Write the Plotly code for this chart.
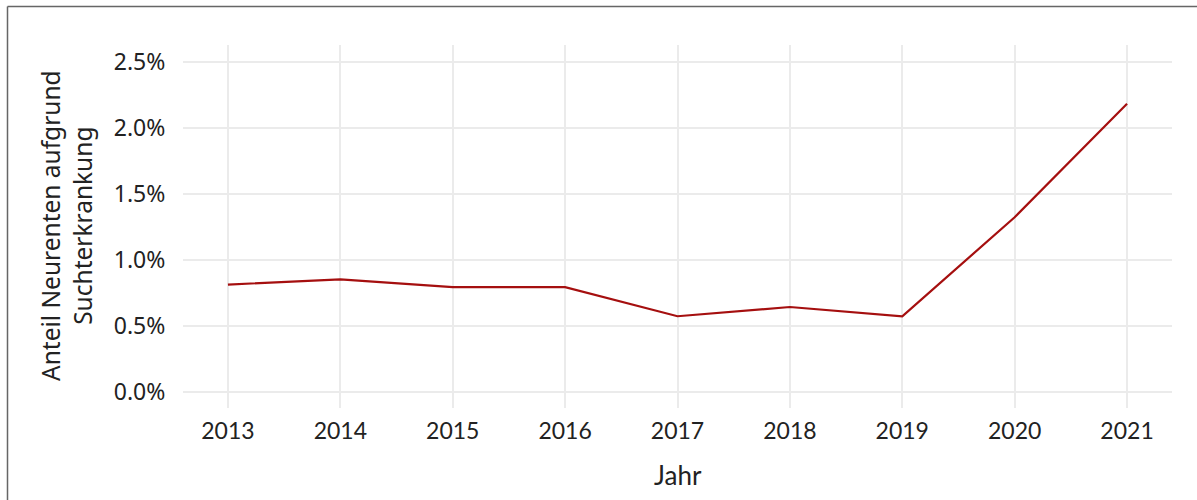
import plotly.graph_objects as go

years = [2013, 2014, 2015, 2016, 2017, 2018, 2019, 2020, 2021]
share = [0.0081, 0.0085, 0.0079, 0.0079, 0.0057, 0.0064, 0.0057, 0.0132, 0.0218]
y_ticks = [0.0, 0.005, 0.010, 0.015, 0.020, 0.025]
y_ticktext = ["0.0%", "0.5%", "1.0%", "1.5%", "2.0%", "2.5%"]

W, H = 1197, 500
L, R, T, B = 183, 25, 45, 92
pw, ph = W - L - R, H - T - B

def px(x):
    return (x - L) / pw

def py(y):
    return (H - B - y) / ph

fig = go.Figure()
fig.add_trace(go.Scatter(
    x=years, y=share, mode="lines",
    line=dict(color="#a50f0f", width=2.2),
    hoverinfo="skip", showlegend=False,
))

fig.update_layout(
    width=W, height=H,
    margin=dict(l=L, r=R, t=T, b=B),
    paper_bgcolor="white", plot_bgcolor="white",
    xaxis=dict(
        range=[2012.6, 2021.4], tickmode="array", tickvals=years,
        ticktext=[str(y) for y in years],
        showgrid=True, gridcolor="#ebebeb", gridwidth=2,
        zeroline=False, showline=False,
        ticks="outside", ticklen=2, tickcolor="rgba(0,0,0,0)",
        tickfont=dict(family="Lato", size=23, color="#222222"),
    ),
    yaxis=dict(
        range=[-0.00125, 0.02625], tickmode="array", tickvals=y_ticks,
        ticktext=y_ticktext,
        showgrid=True, gridcolor="#ebebeb", gridwidth=2,
        zeroline=False, showline=False,
        ticks="outside", ticklen=12, tickcolor="rgba(0,0,0,0)",
        tickfont=dict(family="Noto Sans", size=23, color="#222222"),
    ),
    annotations=[
        dict(text="Jahr", xref="paper", yref="paper", x=0.5, y=py(475),
             xanchor="center", yanchor="middle", showarrow=False,
             font=dict(family="Lato", size=26, color="#222222")),
        dict(text="Anteil Neurenten aufgrund<br>Suchterkrankung", xref="paper", yref="paper",
             x=px(66), y=py(226), xanchor="center", yanchor="middle",
             textangle=-90, showarrow=False,
             font=dict(family="Noto Sans", size=24.5, color="#222222")),
    ],
    shapes=[
        dict(type="line", xref="paper", yref="paper",
             x0=px(7.5), y0=py(6.5), x1=px(1200), y1=py(6.5),
             line=dict(color="#666666", width=1.5)),
        dict(type="line", xref="paper", yref="paper",
             x0=px(7.5), y0=py(6.5), x1=px(7.5), y1=py(505),
             line=dict(color="#666666", width=1.5)),
    ],
)

fig.write_html("out.html", config={"displayModeBar": False},
               post_script="document.body.style.margin='0';document.body.style.overflow='hidden';")
